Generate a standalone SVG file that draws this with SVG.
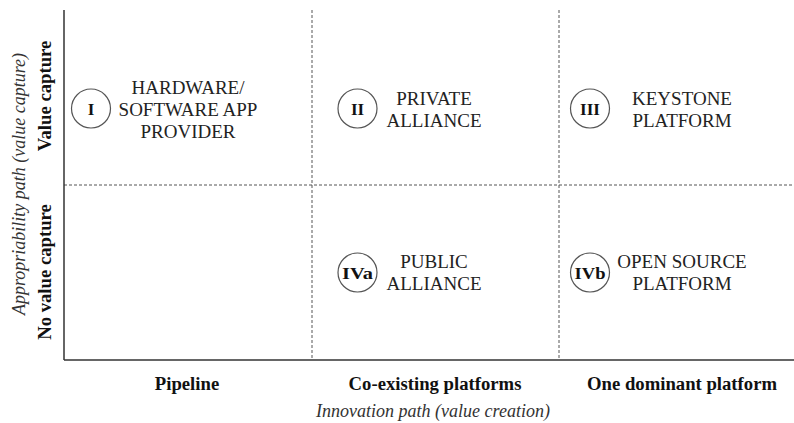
<svg xmlns="http://www.w3.org/2000/svg" width="794" height="423" viewBox="0 0 794 423">
<style>
.axis{stroke:#333;stroke-width:1.5;fill:none}
.dash{stroke:#555;stroke-width:1;stroke-dasharray:3,2;fill:none}
.circ{stroke:#555;stroke-width:1.2;fill:#fff}
text{font-family:'Liberation Serif',Tinos,Times,'Times New Roman',serif;text-anchor:middle}
.q{font-size:19px;fill:#222}
.num{font-size:17px;font-weight:bold;fill:#111}
.bl{font-size:18.7px;font-weight:bold;fill:#111}
.it{font-size:18px;font-style:italic;fill:#333}
</style>
<rect width="794" height="423" fill="#fff"/>
<g id="connectors">
<line class="dash" x1="312" y1="10" x2="312" y2="360"/>
<line class="dash" x1="559" y1="10" x2="559" y2="360"/>
<line class="dash" x1="64" y1="185" x2="794" y2="185"/>
<line class="axis" x1="64" y1="10" x2="64" y2="360"/>
<line class="axis" x1="64" y1="360" x2="794" y2="360"/>
</g>
<g id="axis-labels" font-family="Liberation Serif, serif">
<text class="it" transform="translate(25,184) rotate(-90)">Appropriability path (value capture)</text>
<text class="bl" transform="translate(51,96) rotate(-90)">Value capture</text>
<text class="bl" transform="translate(51,272) rotate(-90)">No value capture</text>
<text class="bl" x="187" y="390">Pipeline</text>
<text class="bl" x="435" y="390">Co-existing platforms</text>
<text class="bl" x="682" y="390">One dominant platform</text>
<text class="it" x="433" y="417">Innovation path (value creation)</text>
</g>
<g id="node-I">
<circle class="circ" cx="91" cy="108.5" r="19.5"/>
<text class="num" x="91" y="114.5">I</text>
<text class="q" x="188" y="93.5">HARDWARE/</text>
<text class="q" x="188" y="115.5">SOFTWARE APP</text>
<text class="q" x="188" y="137.5">PROVIDER</text>
</g>
<g id="node-II">
<circle class="circ" cx="357.5" cy="108.5" r="19.5"/>
<text class="num" x="357.5" y="114.5">II</text>
<text class="q" x="434" y="104.5">PRIVATE</text>
<text class="q" x="434" y="126.5">ALLIANCE</text>
</g>
<g id="node-III">
<circle class="circ" cx="590" cy="108.5" r="19.5"/>
<text class="num" x="590" y="114.5">III</text>
<text class="q" x="682" y="104.5">KEYSTONE</text>
<text class="q" x="682" y="126.5">PLATFORM</text>
</g>
<g id="node-IVa">
<circle class="circ" cx="357.5" cy="272.5" r="19.5"/>
<text class="num" x="357.5" y="278.5" textLength="31" lengthAdjust="spacingAndGlyphs">IVa</text>
<text class="q" x="434" y="267.5">PUBLIC</text>
<text class="q" x="434" y="290">ALLIANCE</text>
</g>
<g id="node-IVb">
<circle class="circ" cx="590" cy="272.5" r="19.5"/>
<text class="num" x="590" y="278.5" textLength="31" lengthAdjust="spacingAndGlyphs">IVb</text>
<text class="q" x="682" y="267.5">OPEN SOURCE</text>
<text class="q" x="682" y="290">PLATFORM</text>
</g>
</svg>
